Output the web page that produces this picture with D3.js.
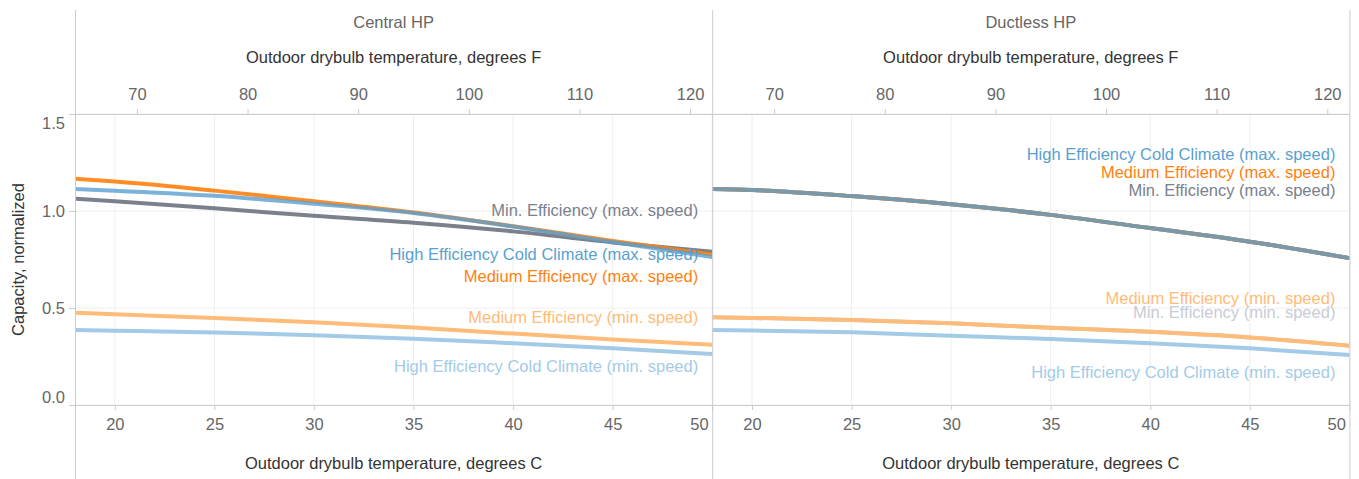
<!DOCTYPE html>
<html>
<head>
<meta charset="utf-8">
<script src="https://cdn.jsdelivr.net/npm/d3@7"></script>
<style>
  body { margin: 0; background: #fff; }
  svg { font-family: "Liberation Sans", Arial, sans-serif; }
  .tick text { fill: #666; font-size: 16.5px; }
  .tick line { stroke: #ccc; }
  .domain { stroke: #ccc; }
  .grid line { stroke: #eee; }
  .title { fill: #333; font-size: 16.5px; }
  .panel-name { fill: #666; font-size: 16.5px; }
</style>
</head>
<body>
<script>
// temperatures (degrees C) the curves are read at
const tempC = [18, 20, 25, 30, 35, 40, 45, 50];

const panels = ["Central HP", "Ductless HP"];

// Central HP
const centralMedMax  = [1.166, 1.152, 1.105, 1.050, 0.992, 0.922, 0.846, 0.776];
const centralHeccMax = [1.113, 1.105, 1.078, 1.037, 0.990, 0.920, 0.840, 0.763];
const centralMinMax  = [1.063, 1.050, 1.014, 0.975, 0.940, 0.895, 0.838, 0.790];
const centralMedMin  = [0.476, 0.468, 0.448, 0.427, 0.400, 0.368, 0.338, 0.310];
const centralHeccMin = [0.386, 0.383, 0.374, 0.360, 0.342, 0.318, 0.292, 0.263];

// Ductless HP
const ductlessMedMax  = [1.113, 1.108, 1.077, 1.035, 0.980, 0.912, 0.842, 0.757];
const ductlessHeccMax = [1.113, 1.108, 1.077, 1.035, 0.980, 0.912, 0.842, 0.757];
const ductlessMinMax  = [1.113, 1.108, 1.077, 1.035, 0.980, 0.912, 0.842, 0.757];
const ductlessMedMin  = [0.452, 0.449, 0.438, 0.421, 0.398, 0.377, 0.348, 0.306];
const ductlessMinMin  = [0.452, 0.449, 0.438, 0.421, 0.398, 0.377, 0.348, 0.306];
const ductlessHeccMin = [0.387, 0.384, 0.375, 0.357, 0.340, 0.318, 0.292, 0.258];

const tickC = [20, 25, 30, 35, 40, 45, 50];
const tickF = [70, 80, 90, 100, 110, 120];
const tickY = [0, 0.5, 1.0, 1.5];

// series names, colours, label text and the capacity value the label sits at
const seriesNames = ["medMax", "heccMax", "minMax", "medMin", "minMin", "heccMin"];
const seriesColor = {
    medMax: "#ff7f0e", heccMax: "#5a9fd0", minMax: "#7a808c",
    medMin: "#ffbb78", minMin: "#c8ccd6", heccMin: "#a3cbe8"
};
const seriesLabel = {
    medMax: "Medium Efficiency (max. speed)",
    heccMax: "High Efficiency Cold Climate (max. speed)",
    minMax: "Min. Efficiency (max. speed)",
    medMin: "Medium Efficiency (min. speed)",
    minMin: "Min. Efficiency (min. speed)",
    heccMin: "High Efficiency Cold Climate (min. speed)"
};
const centralLabelAt  = { minMax: 1.005, heccMax: 0.778, medMax: 0.665, medMin: 0.454, heccMin: 0.201 };
const ductlessLabelAt = { heccMax: 1.294, medMax: 1.201, minMax: 1.108, medMin: 0.552, minMin: 0.479, heccMin: 0.170 };

const panelData = [
    { medMax: centralMedMax, heccMax: centralHeccMax, minMax: centralMinMax,
      medMin: centralMedMin, heccMin: centralHeccMin },
    { medMax: ductlessMedMax, heccMax: ductlessHeccMax, minMax: ductlessMinMax,
      medMin: ductlessMedMin, minMin: ductlessMinMin, heccMin: ductlessHeccMin }
];
const panelLabels = [centralLabelAt, ductlessLabelAt];

// layout
const W = 1359, H = 479;
const plotLeft = 75, panelW = 637.2, plotTop = 114, plotH = 291;
const drawOrder = ["minMin", "medMin", "heccMin", "minMax", "medMax", "heccMax"];
const lineOpacity = { medMax: 0.9, heccMax: 0.8 };

const svg = d3.select("body").append("svg").attr("width", W).attr("height", H);

const x = d3.scaleLinear().domain([18, 50]).range([0, panelW]);
const xF = d3.scaleLinear().domain([18 * 9 / 5 + 32, 122]).range([0, panelW]);
const y = d3.scaleLinear().domain([0, 1.5]).range([plotH, 0]);

const line = d3.line()
    .x((d, i) => x(tempC[i]))
    .y(d => y(d))
    .curve(d3.curveMonotoneX);

panels.forEach((name, p) => {
    const g = svg.append("g").attr("transform", `translate(${plotLeft + p * panelW},0)`);
    const plot = g.append("g").attr("transform", `translate(0,${plotTop})`);

    // grid
    plot.append("g").attr("class", "grid")
        .selectAll("line").data(tickC).enter().append("line")
        .attr("x1", d => x(d)).attr("x2", d => x(d))
        .attr("y1", 0).attr("y2", plotH);
    plot.append("g").attr("class", "grid")
        .selectAll("line").data(tickY).enter().append("line")
        .attr("x1", 0).attr("x2", panelW)
        .attr("y1", d => y(d)).attr("y2", d => y(d));

    // top F axis
    const topAxis = plot.append("g")
        .call(d3.axisTop(xF).tickValues(tickF).tickSize(5).tickPadding(9).tickFormat(d3.format("d")));
    // bottom C axis
    const botAxis = plot.append("g")
        .attr("transform", `translate(0,${plotH})`)
        .call(d3.axisBottom(x).tickValues(tickC).tickSize(5).tickPadding(8).tickFormat(d3.format("d")));
    botAxis.selectAll(".tick text")
        .filter(d => d === 50)
        .attr("text-anchor", "end")
        .attr("x", -4);
    [topAxis, botAxis].forEach(a => a.select(".domain").attr("d", `M0,0.5H${panelW}`));

    // lines
    const data = panelData[p];
    drawOrder.filter(k => data[k]).forEach(k => {
        plot.append("path")
            .datum(data[k])
            .attr("d", line)
            .attr("fill", "none")
            .attr("stroke", seriesColor[k])
            .attr("stroke-width", 4)
            .attr("stroke-opacity", lineOpacity[k] || 1);
    });

    // labels
    const labs = panelLabels[p];
    seriesNames.filter(k => labs[k] !== undefined).forEach(k => {
        plot.append("text")
            .attr("x", panelW - 14)
            .attr("y", y(labs[k]))
            .attr("dy", "0.35em")
            .attr("text-anchor", "end")
            .attr("font-size", 16.5)
            .attr("fill", seriesColor[k])
            .text(seriesLabel[k]);
    });

    // header texts
    g.append("text").attr("class", "panel-name")
        .attr("x", panelW / 2).attr("y", 22).attr("dy", "0.35em")
        .attr("text-anchor", "middle").text(name);
    g.append("text").attr("class", "title")
        .attr("x", panelW / 2).attr("y", 57).attr("dy", "0.35em")
        .attr("text-anchor", "middle").text("Outdoor drybulb temperature, degrees F");
    g.append("text").attr("class", "title")
        .attr("x", panelW / 2).attr("y", 463).attr("dy", "0.35em")
        .attr("text-anchor", "middle").text("Outdoor drybulb temperature, degrees C");
});

// panel borders
svg.append("g").selectAll("line").data([0, 1, 2]).enter().append("line")
    .attr("x1", d => plotLeft + d * panelW + 0.5).attr("x2", d => plotLeft + d * panelW + 0.5)
    .attr("y1", 10).attr("y2", H)
    .attr("stroke", "#ccc");

// y axis
const yAxis = svg.append("g")
    .attr("transform", `translate(${plotLeft},${plotTop})`)
    .call(d3.axisLeft(y).tickValues(tickY).tickSize(6).tickPadding(4).tickFormat(d3.format(".1f")));
yAxis.select(".domain").remove();
yAxis.selectAll(".tick text")
    .attr("dy", d => d === 1.5 ? "0.9em" : d === 0 ? "-0.15em" : "0.32em");

svg.append("text").attr("class", "title")
    .attr("transform", `translate(18,${plotTop + plotH / 2}) rotate(-90)`)
    .attr("dy", "0.35em")
    .attr("text-anchor", "middle")
    .text("Capacity, normalized");
</script>
</body>
</html>
